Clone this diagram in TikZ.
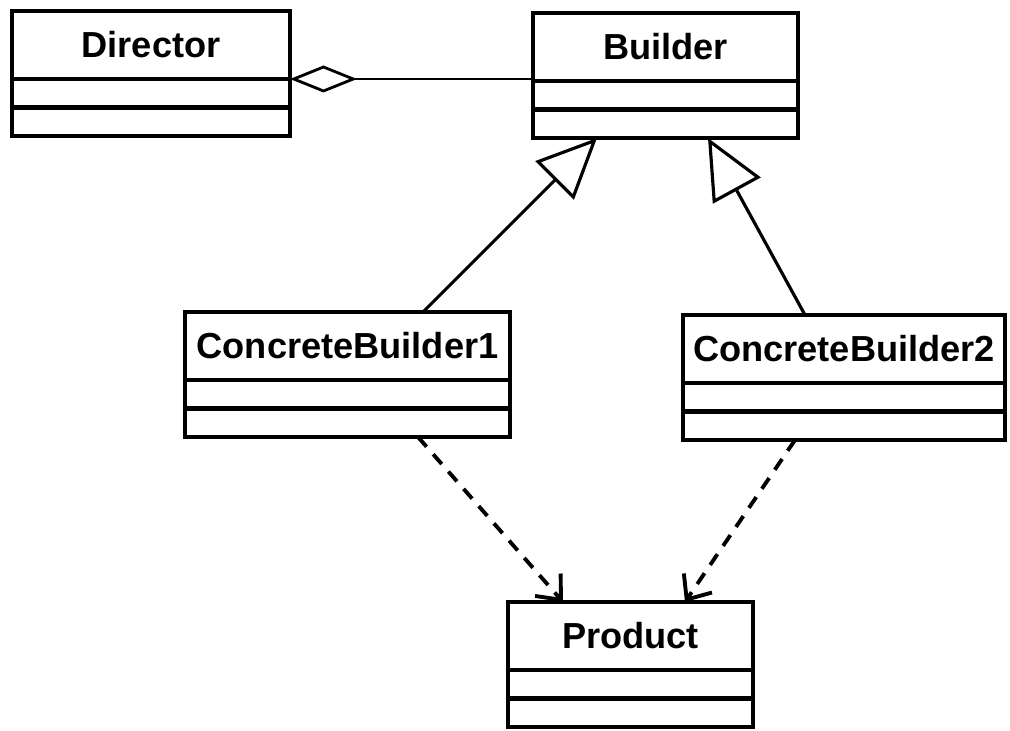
\documentclass[tikz,border=0pt]{standalone}
\usepackage{fontspec}
\setmainfont{Liberation Sans}
\usetikzlibrary{arrows.meta, positioning}

\begin{document}
\begin{tikzpicture}[
		every node/.style = {outer sep = 0pt, inner sep = 0pt},
		classname/.style = {draw, line width = 1.2pt, minimum height = .68cm, font = \fontsize{10.3}{12}\selectfont\bfseries},
		classpart/.style = {draw, line width = 1.2pt, minimum height = .285cm},
		gen/.style = {line width = .9pt, arrows = {-Triangle[open, length = .6cm, width = .54cm]}},
		dep/.style = {line width = 1.1pt, dash pattern = on .13cm off .1cm, arrows = {-Straight Barb[length = .2cm, width = .34cm]}},
		agg/.style = {line width = .8pt, arrows = {Diamond[open, length = .67cm, width = .27cm]-}}
	]
		\useasboundingbox (0, 0) rectangle (10.1, 7.3);

		\node[classname, minimum width = 2.78cm, anchor = north west] (director) at (.12, 7.19) {Director};
		\node[classpart, minimum width = 2.78cm, below = 0pt of director] (directorattr) {};
		\node[classpart, minimum width = 2.78cm, below = 0pt of directorattr] (directorops) {};

		\node[classname, minimum width = 2.65cm, anchor = north west] (builder) at (5.33, 7.17) {Builder};
		\node[classpart, minimum width = 2.65cm, below = 0pt of builder] (builderattr) {};
		\node[classpart, minimum width = 2.65cm, below = 0pt of builderattr] (builderops) {};

		\node[classname, minimum width = 3.25cm, anchor = north west] (concrete1) at (1.85, 4.18) {ConcreteBuilder1};
		\node[classpart, minimum width = 3.25cm, below = 0pt of concrete1] (concrete1attr) {};
		\node[classpart, minimum width = 3.25cm, below = 0pt of concrete1attr] (concrete1ops) {};

		\node[classname, minimum width = 3.22cm, anchor = north west] (concrete2) at (6.83, 4.15) {ConcreteBuilder2};
		\node[classpart, minimum width = 3.22cm, below = 0pt of concrete2] (concrete2attr) {};
		\node[classpart, minimum width = 3.22cm, below = 0pt of concrete2attr] (concrete2ops) {};

		\node[classname, minimum width = 2.45cm, anchor = north west] (product) at (5.08, 1.28) {Product};
		\node[classpart, minimum width = 2.45cm, below = 0pt of product] (productattr) {};
		\node[classpart, minimum width = 2.45cm, below = 0pt of productattr] (productops) {};

		\draw[agg] (director.south east) -- (director.south east -| builder.west);
		\draw[gen] ([xshift = .755cm]concrete1.north) -- ([xshift = -.685cm]builderops.south);
		\draw[gen] ([xshift = -.39cm]concrete2.north) -- ([xshift = .425cm]builderops.south);
		\draw[dep] ([xshift = .705cm]concrete1ops.south) -- ([xshift = -.675cm]product.north);
		\draw[dep] ([xshift = -.49cm]concrete2ops.south) -- ([xshift = .545cm]product.north);

	\end{tikzpicture}
\end{document}
